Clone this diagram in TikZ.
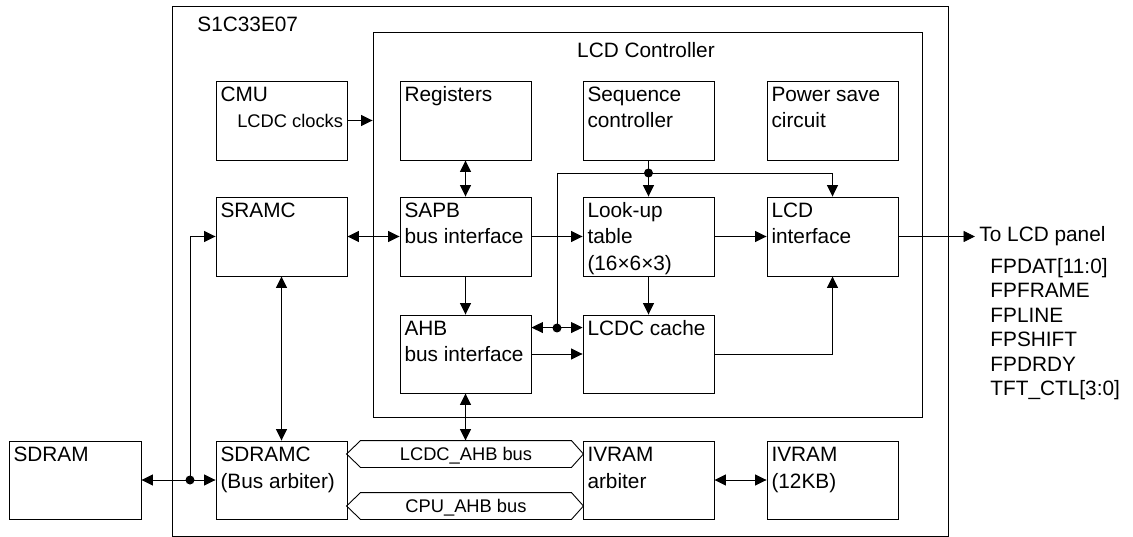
\documentclass[tikz,border=0pt]{standalone}
\usepackage{fontspec}
\setmainfont{Liberation Sans}
\usetikzlibrary{arrows.meta}
\newcommand\fl{\rule{0pt}{19pt}}
\begin{document}
\begin{tikzpicture}[x=1pt,y=-1pt,
  line width=0.9pt,
  >={Triangle[length=11.5pt,width=11pt]},
  blk/.style={draw, rectangle, inner sep=0pt, minimum width=131pt, minimum height=79pt},
  txt/.style={font=\fontsize{20.8}{26.5}\selectfont, align=left, anchor=north west, inner sep=0pt},
  stxt/.style={font=\fontsize{18.3}{22}\selectfont, inner sep=0pt},
  dot/.style={circle, fill, inner sep=0pt, minimum size=9pt},
  bus/.style={inner sep=0pt, minimum width=236pt, minimum height=26pt},
]
\useasboundingbox (0,0) rectangle (1133,537);

% containers
\node[draw, inner sep=0pt, minimum width=776pt, minimum height=530pt] (chip) at (560,271) {};
\node[txt] (chipT) at (197,12.5) {\fl S1C33E07};
\node[draw, inner sep=0pt, minimum width=549pt, minimum height=385pt] (lcdc) at (647.5,224.5) {};
\node[font=\fontsize{20.8}{24}\selectfont, inner sep=0pt, anchor=base] (lcdcT) at (646,57.5) {LCD Controller};

% blocks
\node[blk] (cmu) at (281.5,120.5) {};
\node[blk] (sramc) at (281.5,236.5) {};
\node[blk] (reg) at (465.5,120.5) {};
\node[blk] (seq) at (648.5,120.5) {};
\node[blk] (pwr) at (832.5,120.5) {};
\node[blk] (sapb) at (465.5,236.5) {};
\node[blk] (lut) at (648.5,236.5) {};
\node[blk] (lcdif) at (832.5,236.5) {};
\node[blk, minimum height=78pt] (ahb) at (465.5,354) {};
\node[blk, minimum height=78pt] (cache) at (648.5,354) {};
\node[blk, minimum height=78pt, minimum width=132pt] (sdram) at (75,480) {};
\node[blk, minimum height=78pt] (sdramc) at (281.5,480) {};
\node[blk, minimum height=78pt] (ivarb) at (648.5,480) {};
\node[blk, minimum height=78pt] (ivram) at (832.5,480) {};

% block texts
\node[txt] (cmuT) at ([shift={(4.5,1.5)}]cmu.north west) {\fl CMU};
\node[txt] (sramcT) at ([shift={(4.5,1.5)}]sramc.north west) {\fl SRAMC};
\node[txt] (regT) at ([shift={(4.5,1.5)}]reg.north west) {\fl Registers};
\node[txt] (seqT) at ([shift={(4.5,1.5)}]seq.north west) {\fl Sequence\\controller};
\node[txt] (pwrT) at ([shift={(4.5,1.5)}]pwr.north west) {\fl Power save\\circuit};
\node[txt] (sapbT) at ([shift={(4.5,1.5)}]sapb.north west) {\fl SAPB\\bus interface};
\node[txt] (lutT) at ([shift={(4.5,1.5)}]lut.north west) {\fl Look-up\\table\\(16×6×3)};
\node[txt] (lcdifT) at ([shift={(4.5,1.5)}]lcdif.north west) {\fl LCD\\interface};
\node[txt] (ahbT) at ([shift={(4.5,1.5)}]ahb.north west) {\fl AHB\\bus interface};
\node[txt] (cacheT) at ([shift={(4.5,1.5)}]cache.north west) {\fl LCDC cache};
\node[txt] (sdramT) at ([shift={(4.5,1.5)}]sdram.north west) {\fl SDRAM};
\node[txt] (sdramcT) at ([shift={(4.5,1.5)}]sdramc.north west) {\fl SDRAMC\\(Bus arbiter)};
\node[txt] (ivarbT) at ([shift={(4.5,1.5)}]ivarb.north west) {\fl IVRAM\\arbiter};
\node[txt] (ivramT) at ([shift={(4.5,1.5)}]ivram.north west) {\fl IVRAM\\(12KB)};

\node[stxt, anchor=base east] (clk) at (343.5,127.5) {LCDC clocks};

% buses
\node[bus] (bus1) at (465,454) {};
\node[bus] (bus2) at (465,506) {};
\foreach \b in {bus1,bus2}{
  \draw (\b.west) -- ([xshift=14pt]\b.north west) -- ([xshift=-12pt]\b.north east)
        -- (\b.east) -- ([xshift=-12pt]\b.south east) -- ([xshift=14pt]\b.south west) -- cycle;
}
\node[stxt, anchor=base] (bus1T) at (466,460.5) {LCDC\_AHB bus};
\node[stxt, anchor=base] (bus2T) at (466,512.8) {CPU\_AHB bus};

% output
\node[font=\fontsize{20.8}{24}\selectfont, anchor=west, inner sep=4pt] (panel) at (975,236.5) {To LCD panel};
\node[txt, font=\fontsize{20.8}{24.5}\selectfont] (sigs) at (990,253.7)
  {\fl FPDAT[11:0]\\FPFRAME\\FPLINE\\FPSHIFT\\FPDRDY\\TFT\_CTL[3:0]};

% connectors
\draw[->] (cmu.east) -- (cmu.east -| lcdc.west);
\draw[<->] (reg.south) -- (sapb.north);
\draw[<->] (sramc.east) -- (sapb.west);
\draw[->] (sapb.east) -- (lut.west);
\draw[->] (lut.east) -- (lcdif.west);
\draw[->] (lcdif.east) -- (panel.west);
\draw[->] (sapb.south) -- (ahb.north);
\draw[->] (lut.south) -- (cache.north);
\draw[->] (seq.south) -- (lut.north);
\node[dot] (d1) at (648.5,173) {};
\coordinate (jl) at (557,173);
\draw[->] (jl) -| (lcdif.north);
\node[dot] (d2) at (557,328) {};
\draw (jl) -- (d2.center);
\draw[<->] ([yshift=-13pt]ahb.north east) -- ([yshift=-13pt]cache.north west);
\draw[->] (ahb.east) -- (cache.west);
\draw[->] (cache.east) -| (lcdif.south);
\draw[<->] (ahb.south) -- (ahb.south |- bus1.north);
\draw[<->] (sramc.south) -- (sdramc.north);
\draw[<->] (sdram.east) -- (sdramc.west);
\node[dot] (d3) at (190,480) {};
\draw[->] (d3.center) |- (sramc.west);
\draw[<->] (ivarb.east) -- (ivram.west);
\end{tikzpicture}
\end{document}
